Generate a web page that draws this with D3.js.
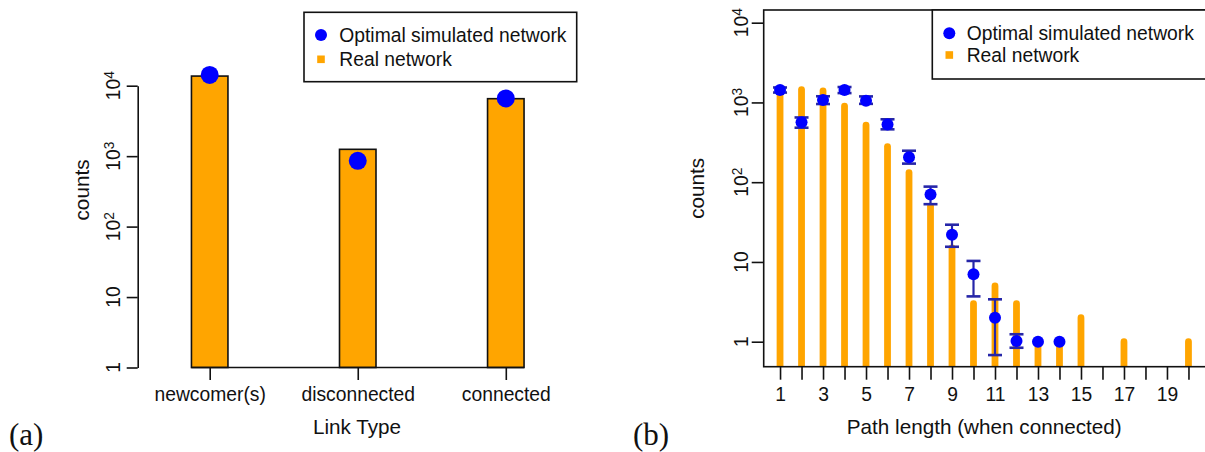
<!DOCTYPE html>
<html><head><meta charset="utf-8">
<script src="https://cdn.jsdelivr.net/npm/d3@7"></script>
<style>
  body { margin: 0; background: #fff; }
  svg { display: block; font-family: "Liberation Sans", Arial, Helvetica, sans-serif; }
</style></head>
<body>
<svg id="fig" width="1205" height="452"></svg>
<script>
// ---- Panel (a): counts per link type ----
const linkTypes = ["newcomer(s)", "disconnected", "connected"];
const linkReal  = [13700, 1250, 6540];
const linkSim   = [14200, 860, 6600];

// ---- Panel (b): path length distribution ----
const pathLengths = [1, 2, 3, 4, 5, 6, 7, 8, 9, 10, 11, 12, 13, 14, 15, 16, 17, 18, 19, 20];
const pathReal    = [1400, 1450, 1400, 900, 520, 280, 132, 50, 15, 3, 5, 3, 1, 1, 2, 0, 1, 0, 0, 1];
const simLengths  = [1, 2, 3, 4, 5, 6, 7, 8, 9, 10, 11, 12, 13, 14];
const simMean     = [1430, 565, 1075, 1430, 1050, 530, 205, 70, 22, 7, 2, 1.02, 1, 1];
const simLow      = [1330, 482, 955, 1310, 960, 460, 171, 53, 15.5, 3.7, 0.68, 0.84, 1, 1];
const simHigh     = [1540, 648, 1195, 1560, 1190, 615, 248, 88, 29.3, 10.3, 3.4, 1.24, 1, 1];

// ---- Axis ticks and labels ----
const logTicks      = [1, 10, 100, 1000, 10000];
const logTickLabels = [["1", ""], ["10", ""], ["10", "2"], ["10", "3"], ["10", "4"]];
const pathTickLabels = [1, 3, 5, 7, 9, 11, 13, 15, 17, 19];
const legendLabels  = ["Optimal simulated network", "Real network"];

const ORANGE = "#FFA500", BLUE = "#0000FF", ERR = "#2626a8", INK = "#111";
const FS = 19.3, FT = 20.7;

const svg = d3.select("#fig");

function styleAxis(g, w) {
  g.attr("font-size", null).attr("font-family", null);
  g.selectAll("line").attr("stroke", INK).attr("stroke-width", w);
  g.selectAll("path.domain").attr("stroke", INK).attr("stroke-width", w);
}

function logLabels(g, scale, xBase) {
  g.selectAll("text.ylab").data(logTicks).join("text")
    .attr("class", "ylab")
    .attr("transform", d => `translate(${xBase},${scale(d)}) rotate(-90)`)
    .attr("text-anchor", "middle")
    .attr("font-size", FS)
    .attr("fill", INK)
    .each(function (d, i) {
      const t = d3.select(this);
      t.append("tspan").text(logTickLabels[i][0]);
      if (logTickLabels[i][1]) {
        t.append("tspan").attr("dy", "-0.45em").attr("font-size", FS * 0.72).text(logTickLabels[i][1]);
      }
    });
}

function legend(g, box, cx, rows, tx) {
  g.append("rect").attr("x", box[0]).attr("y", box[1])
    .attr("width", box[2] - box[0]).attr("height", box[3] - box[1])
    .attr("fill", "#fff").attr("stroke", INK).attr("stroke-width", 1.6);
  g.append("circle").attr("cx", cx).attr("cy", rows[0]).attr("r", 6).attr("fill", BLUE);
  g.append("rect").attr("x", cx - 3.8).attr("y", rows[1] - 3.8).attr("width", 7.6).attr("height", 7.6).attr("fill", ORANGE);
  g.selectAll("text.leg").data(legendLabels).join("text")
    .attr("class", "leg")
    .attr("x", tx).attr("y", (d, i) => rows[i] + 6.6)
    .attr("font-size", FS).attr("fill", INK).text(d => d);
}

// ================= Panel (a) =================
const ga = svg.append("g");
const xa = d3.scalePoint().domain(linkTypes).range([209.7, 505.8]);
const ya = d3.scaleLog().domain([1, 1e4]).range([367.5, 85.7]);
const barW = 36.5;

ga.selectAll("rect.bar").data(linkTypes).join("rect")
  .attr("class", "bar")
  .attr("x", d => xa(d) - barW / 2)
  .attr("y", (d, i) => ya(linkReal[i]))
  .attr("width", barW)
  .attr("height", (d, i) => ya(1) - ya(linkReal[i]))
  .attr("fill", ORANGE).attr("stroke", INK).attr("stroke-width", 1.6);

ga.append("line")
  .attr("x1", xa(linkTypes[0]) - barW / 2).attr("x2", xa(linkTypes[linkTypes.length - 1]) + barW / 2)
  .attr("y1", ya(1)).attr("y2", ya(1))
  .attr("stroke", INK).attr("stroke-width", 1.6);

ga.selectAll("circle.sim").data(linkTypes).join("circle")
  .attr("class", "sim")
  .attr("cx", d => xa(d)).attr("cy", (d, i) => ya(linkSim[i]))
  .attr("r", 9).attr("fill", BLUE);

const gaY = ga.append("g").attr("transform", "translate(137.7,0)")
  .call(d3.axisLeft(ya).tickValues(logTicks).tickSize(11).tickSizeOuter(0).tickFormat(() => ""));
styleAxis(gaY, 1.6);
logLabels(ga, ya, 120);

const gaX = ga.append("g").attr("transform", `translate(0,${ya(1)})`)
  .call(d3.axisBottom(xa).tickSize(12.5).tickSizeOuter(0));
gaX.select("path.domain").remove();
styleAxis(gaX, 1.6);
gaX.selectAll(".tick text").attr("y", 33.5).attr("dy", 0).attr("font-size", FS).attr("fill", INK);

ga.append("text").attr("x", 357).attr("y", 434).attr("text-anchor", "middle")
  .attr("font-size", FT).attr("fill", INK).text("Link Type");
ga.append("text").attr("transform", "translate(88.5,190) rotate(-90)").attr("text-anchor", "middle")
  .attr("font-size", FT).attr("fill", INK).text("counts");

legend(ga, [304, 12.3, 576.7, 81.7], 321, [35, 59.3], 339.3);

svg.append("text").attr("x", 9).attr("y", 445)
  .attr("font-family", "'Liberation Serif', 'DejaVu Serif', serif").attr("font-size", 31)
  .attr("fill", INK).text("(a)");

// ================= Panel (b) =================
const gb = svg.append("g");
const plotB = { left: 763.7, right: 1204.8, top: 10, bottom: 366.7 };
const xb = d3.scaleLinear().domain([0.24, 20.76]).range([plotB.left, plotB.right]);
const yb = d3.scaleLog().domain([0.486, 14420]).range([plotB.bottom, plotB.top]);

gb.append("clipPath").attr("id", "clipB")
  .append("rect").attr("x", plotB.left).attr("y", plotB.top)
  .attr("width", plotB.right - plotB.left).attr("height", plotB.bottom - plotB.top);

const bars = gb.append("g").attr("clip-path", "url(#clipB)");
bars.selectAll("line.h").data(pathLengths.filter((d, i) => pathReal[i] > 0)).join("line")
  .attr("class", "h")
  .attr("x1", d => xb(d)).attr("x2", d => xb(d))
  .attr("y1", d => yb(pathReal[pathLengths.indexOf(d)]))
  .attr("y2", plotB.bottom + 10)
  .attr("stroke", ORANGE).attr("stroke-width", 6.8).attr("stroke-linecap", "round");

// error bars for the simulated network
const errIdx = simLengths.map((d, i) => i).filter(i => simHigh[i] > simLow[i]);
const eb = gb.append("g").attr("stroke", ERR).attr("fill", "none");
eb.selectAll("line.v").data(errIdx).join("line").attr("class", "v")
  .attr("x1", i => xb(simLengths[i])).attr("x2", i => xb(simLengths[i]))
  .attr("y1", i => yb(simHigh[i])).attr("y2", i => yb(simLow[i]))
  .attr("stroke-width", 2.2);
eb.selectAll("line.capHi").data(errIdx).join("line").attr("class", "capHi")
  .attr("x1", i => xb(simLengths[i]) - 7).attr("x2", i => xb(simLengths[i]) + 7)
  .attr("y1", i => yb(simHigh[i])).attr("y2", i => yb(simHigh[i]))
  .attr("stroke-width", 2.6);
eb.selectAll("line.capLo").data(errIdx).join("line").attr("class", "capLo")
  .attr("x1", i => xb(simLengths[i]) - 7).attr("x2", i => xb(simLengths[i]) + 7)
  .attr("y1", i => yb(simLow[i])).attr("y2", i => yb(simLow[i]))
  .attr("stroke-width", 2.6);

gb.selectAll("circle.sim").data(simLengths).join("circle")
  .attr("class", "sim")
  .attr("cx", d => xb(d)).attr("cy", (d, i) => yb(simMean[i]))
  .attr("r", 6).attr("fill", BLUE);

// plot frame
gb.append("rect").attr("x", plotB.left).attr("y", plotB.top)
  .attr("width", plotB.right + 2 - plotB.left).attr("height", plotB.bottom - plotB.top)
  .attr("fill", "none").attr("stroke", INK).attr("stroke-width", 1.6);

const gbY = gb.append("g").attr("transform", `translate(${plotB.left},0)`)
  .call(d3.axisLeft(yb).tickValues(logTicks).tickSize(12).tickSizeOuter(0).tickFormat(() => ""));
gbY.select("path.domain").remove();
styleAxis(gbY, 1.6);
logLabels(gb, yb, 748.3);

const gbX = gb.append("g").attr("transform", `translate(0,${plotB.bottom})`)
  .call(d3.axisBottom(xb).tickValues(pathLengths).tickSize(13).tickSizeOuter(0)
    .tickFormat(d => pathTickLabels.includes(d) ? d : ""));
gbX.select("path.domain").remove();
styleAxis(gbX, 1.6);
gbX.selectAll(".tick text").attr("y", 34).attr("dy", 0).attr("font-size", FS).attr("fill", INK);

gb.append("text").attr("x", (plotB.left + plotB.right) / 2).attr("y", 434).attr("text-anchor", "middle")
  .attr("font-size", FT).attr("fill", INK).text("Path length (when connected)");
gb.append("text").attr("transform", "translate(703.5,188.3) rotate(-90)").attr("text-anchor", "middle")
  .attr("font-size", FT).attr("fill", INK).text("counts");

legend(gb, [932.3, 10, 1212, 79], 949.3, [33.3, 55], 966.7);

svg.append("text").attr("x", 633).attr("y", 445)
  .attr("font-family", "'Liberation Serif', 'DejaVu Serif', serif").attr("font-size", 31)
  .attr("fill", INK).text("(b)");
</script>
</body></html>
